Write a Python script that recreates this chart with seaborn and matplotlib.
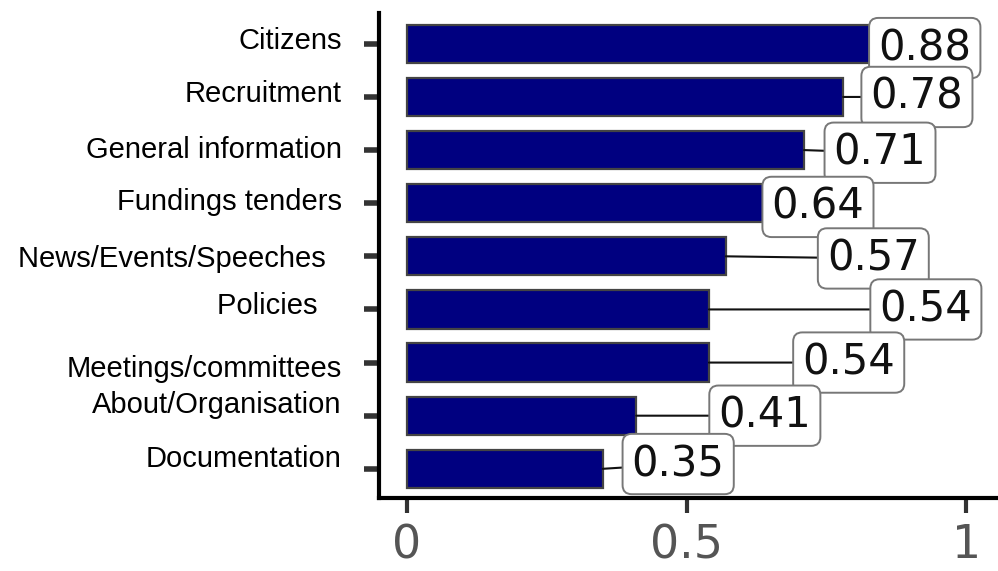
import matplotlib.pyplot as plt
import seaborn as sns
import pandas as pd
from matplotlib.transforms import ScaledTranslation

categories = ["Citizens", "Recruitment", "General information", "Fundings tenders",
              "News/Events/Speeches  ", "Policies   ", "Meetings/committees",
              "About/Organisation", "Documentation"]
scores = [0.88, 0.78, 0.71, 0.64, 0.57, 0.54, 0.54, 0.41, 0.35]
# where the value boxes sit (x centre, in data units)
label_x = [0.926, 0.912, 0.846, 0.735, 0.834, 0.928, 0.79, 0.64, 0.485]
label_dy = [0.08, 0.0, 0.05, 0.07, 0.04, 0.0, 0.0, 0.0, -0.09]
# upward nudge of the category names, in pixels
name_nudge = [6, 6, 3, 4, 0, 6, -3, 14, 13]

df = pd.DataFrame({"cat": categories, "score": scores})

sns.set_style("white")
fig = plt.figure(figsize=(9.98, 5.71), dpi=100)
ax = fig.add_axes([0.3798, 0.1278, 0.6202, 0.8494])

sns.barplot(data=df, x="score", y="cat", color="#000080", saturation=1,
            width=0.72, edgecolor="#444444", linewidth=1.6, ax=ax)

for i, (v, lx) in enumerate(zip(scores, label_x)):
    ax.annotate(f"{v:.2f}", xy=(v, i), xytext=(lx, i + label_dy[i]),
                ha="center", va="center", fontsize=30, family="DejaVu Sans",
                color="#111111",
                bbox=dict(boxstyle="round,pad=0.22", fc="white", ec="#777777", lw=1.4),
                arrowprops=dict(arrowstyle="-", color="#111111", lw=1.5,
                                shrinkA=0, shrinkB=0),
                zorder=5)

ax.set_xlim(-0.05, 1.057)
ax.set_ylim(8.55, -0.58)
ax.set_xticks([0, 0.5, 1])
ax.set_xticklabels(["0", "0.5", "1"])
ax.set_xlabel("")
ax.set_ylabel("")

for s in ["top", "right"]:
    ax.spines[s].set_visible(False)
for s in ["left", "bottom"]:
    ax.spines[s].set_linewidth(3)
    ax.spines[s].set_color("black")

ax.tick_params(axis="y", length=11, width=4, color="#333333", pad=16, left=True)
ax.tick_params(axis="x", length=11, width=3, color="#333333", pad=7, bottom=True,
               labelsize=33, labelcolor="#555555")

for lab, dy in zip(ax.get_yticklabels(), name_nudge):
    lab.set_fontfamily("Liberation Sans")
    lab.set_fontsize(21)
    lab.set_color("black")
    lab.set_transform(lab.get_transform() + ScaledTranslation(0, dy / 100, fig.dpi_scale_trans))

fig.savefig("out.png", dpi=100)
